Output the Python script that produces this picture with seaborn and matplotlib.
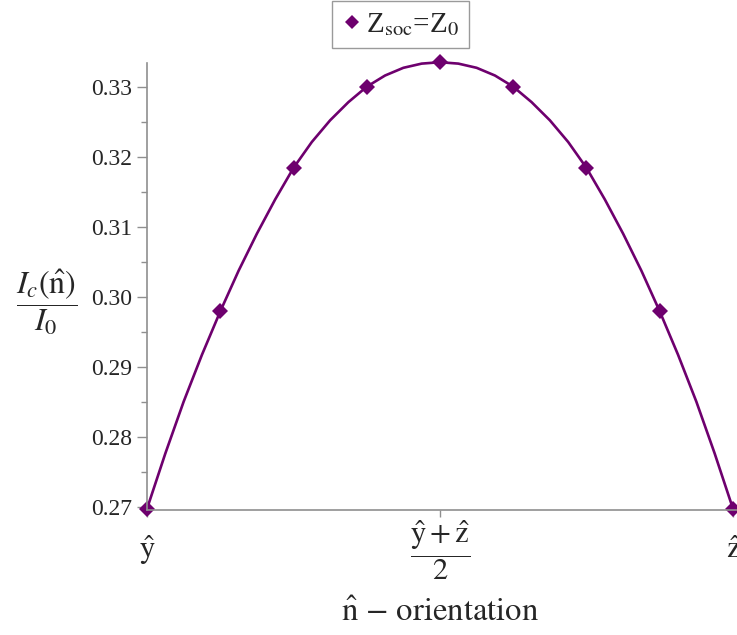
import numpy as np
import matplotlib
matplotlib.use("Agg")
import matplotlib.pyplot as plt
from matplotlib.lines import Line2D
from matplotlib.ticker import MultipleLocator
import seaborn as sns

# Orientation of n-hat swept from y-hat (0) through (y+z)/2 (0.5) to z-hat (1)
orientation = [0.0, 0.03125, 0.0625, 0.09375, 0.125, 0.15625, 0.1875, 0.21875,
               0.25, 0.28125, 0.3125, 0.34375, 0.375, 0.40625, 0.4375, 0.46875,
               0.5, 0.53125, 0.5625, 0.59375, 0.625, 0.65625, 0.6875, 0.71875,
               0.75, 0.78125, 0.8125, 0.84375, 0.875, 0.90625, 0.9375, 0.96875,
               1.0]
# Critical current ratio Ic(n)/I0
ic_ratio = [0.2697, 0.2776, 0.2850, 0.2917, 0.2979, 0.3037, 0.3090, 0.3139,
            0.3184, 0.3221, 0.3252, 0.3278, 0.3300, 0.3316, 0.3327, 0.3333,
            0.3335, 0.3333, 0.3327, 0.3316, 0.3300, 0.3278, 0.3252, 0.3221,
            0.3184, 0.3139, 0.3090, 0.3037, 0.2979, 0.2917, 0.2850, 0.2776,
            0.2697]
y_ticks = [0.27, 0.28, 0.29, 0.30, 0.31, 0.32, 0.33]
y_tick_labels = ["0.27", "0.28", "0.29", "0.30", "0.31", "0.32", "0.33"]
x_ticks = [0.0, 0.5, 1.0]
x_tick_labels = [r"$\hat{\mathrm{y}}$",
                 r"$\dfrac{\hat{\mathrm{y}}+\hat{\mathrm{z}}}{2}$",
                 r"$\hat{\mathrm{z}}$"]
series_label = r"Z$_{\mathrm{soc}}$=Z$_{0}$"

sns.set_style("white")
plt.rcParams["font.family"] = ["Liberation Serif", "DejaVu Sans"]
plt.rcParams["mathtext.fontset"] = "stix"

PURPLE = "#6e006e"
AXIS_GREY = "#8f8f8f"

fig = plt.figure(figsize=(7.37, 6.35), dpi=100)
ax = fig.add_axes([147 / 737, 125 / 635, 590 / 737, 447.3 / 635])

sns.lineplot(x=orientation, y=ic_ratio, ax=ax, color=PURPLE, linewidth=1.9,
             marker="D", markersize=8, markeredgewidth=0, markevery=4,
             sort=False, legend=False, errorbar=None, clip_on=False)

ax.set_xlim(0, 590 / 586)
ax.set_ylim(0.26953, 0.33343)

ax.set_yticks(y_ticks)
ax.set_yticklabels(y_tick_labels, fontsize=17)
ax.yaxis.set_minor_locator(MultipleLocator(0.005))
ax.set_xticks(x_ticks)
ax.set_xticklabels(x_tick_labels, fontsize=22)
for lbl in ax.get_xticklabels():
    lbl.set_verticalalignment("center")

ax.tick_params(axis="y", which="major", direction="out", length=7.5,
               width=1, color=AXIS_GREY, pad=3, left=True)
ax.tick_params(axis="y", which="minor", direction="out", length=4,
               width=1, color=AXIS_GREY, left=True)
ax.tick_params(axis="x", which="major", direction="out", length=5,
               width=1, color=AXIS_GREY, pad=24, bottom=True)

for side in ("top", "right"):
    ax.spines[side].set_visible(False)
for side in ("left", "bottom"):
    ax.spines[side].set_color(AXIS_GREY)
    ax.spines[side].set_linewidth(1.2)

ax.set_xlabel(r"$\hat{\mathrm{n}}$ $-$ orientation", fontsize=23.5,
              family="STIXGeneral", va="center")
ax.xaxis.set_label_coords(0.5 * 586 / 590, -(613 - 510) / 447.3)
ax.set_ylabel("")
fig.text(46.5 / 737, 1 - 302 / 635,
         r"$\dfrac{I_c(\hat{\mathrm{n}})}{I_0}$",
         fontsize=23, ha="center", va="center")

handle = Line2D([], [], color=PURPLE, marker="D", linestyle="none",
                markersize=7.5, markeredgewidth=0)
fig.legend([handle], [series_label], loc="upper center",
           bbox_to_anchor=(400.5 / 737, 0.999), frameon=True, fancybox=False,
           edgecolor="#9a9a9a", fontsize=21, handletextpad=0.1,
           handlelength=0.7, borderpad=0.35, borderaxespad=0.0,
           framealpha=1.0)

fig.savefig("out.png", dpi=100)
